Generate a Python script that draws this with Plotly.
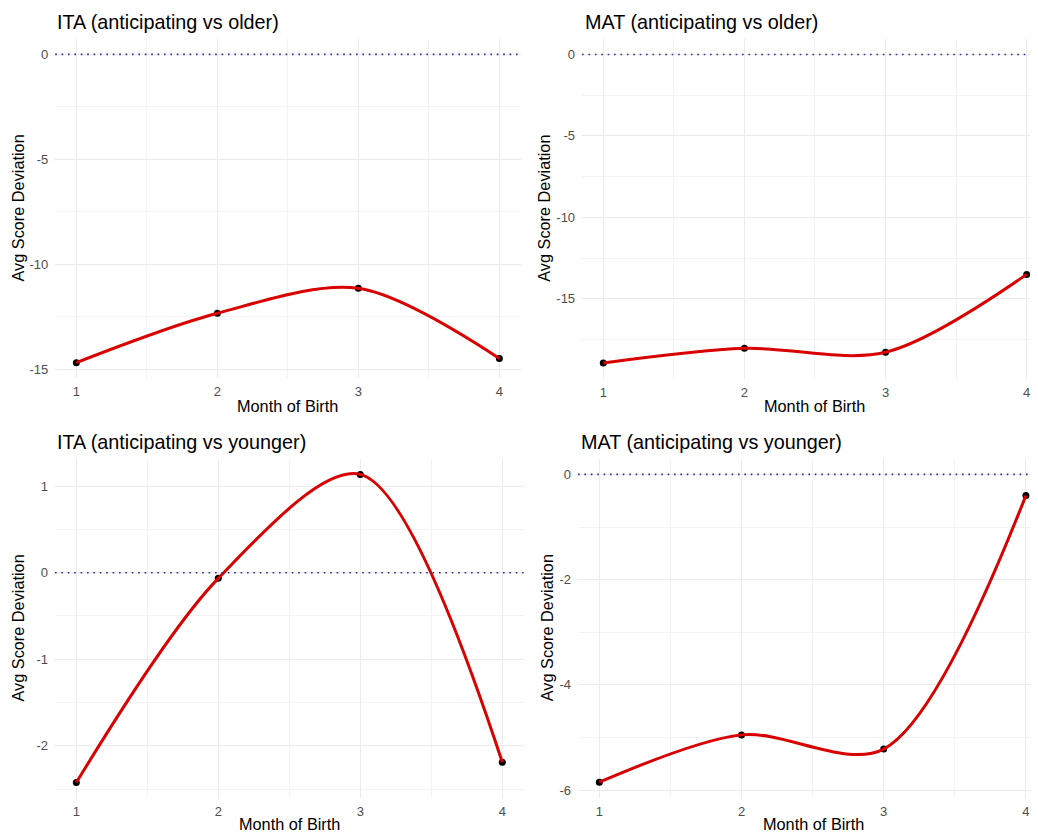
import plotly.graph_objects as go

# ---- data ----
months = [1, 2, 3, 4]
month_labels = ["1", "2", "3", "4"]

ita_older = [-14.68, -12.33, -11.14, -14.48]
mat_older = [-18.94, -18.04, -18.28, -13.50]
ita_younger = [-2.425, -0.065, 1.136, -2.19]
mat_younger = [-5.85, -4.95, -5.22, -0.40]

ita_older_yticks = [0, -5, -10, -15]
mat_older_yticks = [0, -5, -10, -15]
ita_younger_yticks = [1, 0, -1, -2]
mat_younger_yticks = [0, -2, -4, -6]

titles = [
    "ITA (anticipating vs older)",
    "MAT (anticipating vs older)",
    "ITA (anticipating vs younger)",
    "MAT (anticipating vs younger)",
]
x_title = "Month of Birth"
y_title = "Avg Score Deviation"
reference_line = 0

# page is 1038x834; the html body has an 8px margin, so the figure itself
# is sized to fill the rest and page coordinates are shifted by 8px
OFF = 8
W, H = 1038 - OFF, 834 - OFF
FONT = "Liberation Sans, Arial, sans-serif"


def fx(px):
    return min(1.0, (px - OFF) / W)


def fy(px):
    return max(0.0, 1 - (px - OFF) / H)


panels = [
    dict(vals=ita_older, yticks=ita_older_yticks, ystep=5,
         xdom=(55.2, 520.5), xr=(0.85, 4.15),
         ydom=(39, 378), yr=(-15.41, 0.734),
         ytx=17, ttx=55, tty=22, xtx=287.8, xty=406),
    dict(vals=mat_older, yticks=mat_older_yticks, ystep=5,
         xdom=(582.1, 1038), xr=(0.85, 4.080),
         ydom=(39, 378.5), yr=(-19.89, 0.947),
         ytx=544, ttx=582.7, tty=22, xtx=814, xty=406),
    dict(vals=ita_younger, yticks=ita_younger_yticks, ystep=1,
         xdom=(55, 523.6), xr=(0.85, 4.15),
         ydom=(459, 798), yr=(-2.603, 1.314),
         ytx=17, ttx=55, tty=442, xtx=289.7, xty=824),
    dict(vals=mat_younger, yticks=mat_younger_yticks, ystep=2,
         xdom=(578, 1038), xr=(0.85, 4.085),
         ydom=(459, 797.5), yr=(-6.14, 0.2925),
         ytx=547, ttx=579.3, tty=442, xtx=813.3, xty=824),
]

fig = go.Figure()
annotations = []
shapes = []
layout_axes = {}

GRID = "#EBEBEB"

for i, p in enumerate(panels):
    n = i + 1
    xa = "x" if n == 1 else f"x{n}"
    ya = "y" if n == 1 else f"y{n}"
    xkey = "xaxis" if n == 1 else f"xaxis{n}"
    ykey = "yaxis" if n == 1 else f"yaxis{n}"

    # minor grid positions halfway between major ticks
    yt = sorted(p["yticks"])
    yminor = [v + p["ystep"] / 2 for v in yt] + [yt[0] - p["ystep"] / 2]
    xminor = [m + 0.5 for m in months[:-1]]

    layout_axes[xkey] = dict(
        domain=[fx(p["xdom"][0]), fx(p["xdom"][1])],
        range=list(p["xr"]),
        anchor=ya,
        tickmode="array", tickvals=months, ticktext=month_labels,
        showgrid=True, gridcolor=GRID, gridwidth=1,
        minor=dict(tickmode="array", tickvals=xminor, showgrid=True,
                   gridcolor="#F3F3F3", gridwidth=0.6),
        zeroline=False, showline=False, ticks="",
        tickfont=dict(family=FONT, size=13, color="#4D4D4D"),
        ticklabelstandoff=4,
        fixedrange=True,
    )
    layout_axes[ykey] = dict(
        domain=[fy(p["ydom"][1]), fy(p["ydom"][0])],
        range=list(p["yr"]),
        anchor=xa,
        tickmode="array", tickvals=p["yticks"],
        ticktext=[str(v) for v in p["yticks"]],
        showgrid=True, gridcolor=GRID, gridwidth=1,
        minor=dict(tickmode="array", tickvals=yminor, showgrid=True,
                   gridcolor="#F3F3F3", gridwidth=0.6),
        zeroline=False, showline=False, ticks="",
        tickfont=dict(family=FONT, size=13, color="#4D4D4D"),
        ticklabelstandoff=6,
        fixedrange=True,
    )

    # reference line at zero
    shapes.append(dict(
        type="line", xref=f"{xa} domain", yref=ya,
        x0=0, x1=1, y0=reference_line, y1=reference_line,
        line=dict(color="#2c2c90", width=1.6, dash="1.6px,4.8px"),
        layer="above",
    ))

    fig.add_trace(go.Scatter(
        x=months, y=p["vals"], mode="markers",
        marker=dict(color="black", size=7),
        xaxis=xa, yaxis=ya, showlegend=False, hoverinfo="skip",
    ))
    fig.add_trace(go.Scatter(
        x=months, y=p["vals"], mode="lines",
        line=dict(color="#D90000", width=3, shape="spline", smoothing=0.9),
        xaxis=xa, yaxis=ya, showlegend=False,
    ))

    # panel title
    annotations.append(dict(
        text=titles[i], xref="paper", yref="paper",
        x=fx(p["ttx"]), y=fy(p["tty"]), xanchor="left", yanchor="middle",
        showarrow=False, font=dict(family=FONT, size=19.8, color="black"),
    ))
    # y axis title
    annotations.append(dict(
        text=y_title, xref="paper", yref="paper", textangle=-90,
        x=fx(p["ytx"]), y=fy((p["ydom"][0] + p["ydom"][1]) / 2),
        xanchor="center", yanchor="middle",
        showarrow=False, font=dict(family=FONT, size=16.3, color="black"),
    ))
    # x axis title
    annotations.append(dict(
        text=x_title, xref="paper", yref="paper",
        x=fx(p["xtx"]), y=fy(p["xty"]), xanchor="center", yanchor="middle",
        showarrow=False, font=dict(family=FONT, size=16.3, color="black"),
    ))

fig.update_layout(
    width=W, height=H,
    margin=dict(l=0, r=0, t=0, b=0),
    paper_bgcolor="white", plot_bgcolor="white",
    showlegend=False,
    annotations=annotations, shapes=shapes,
    font=dict(family=FONT),
    **layout_axes,
)

fig.write_html("out.html", config={"displayModeBar": False})
